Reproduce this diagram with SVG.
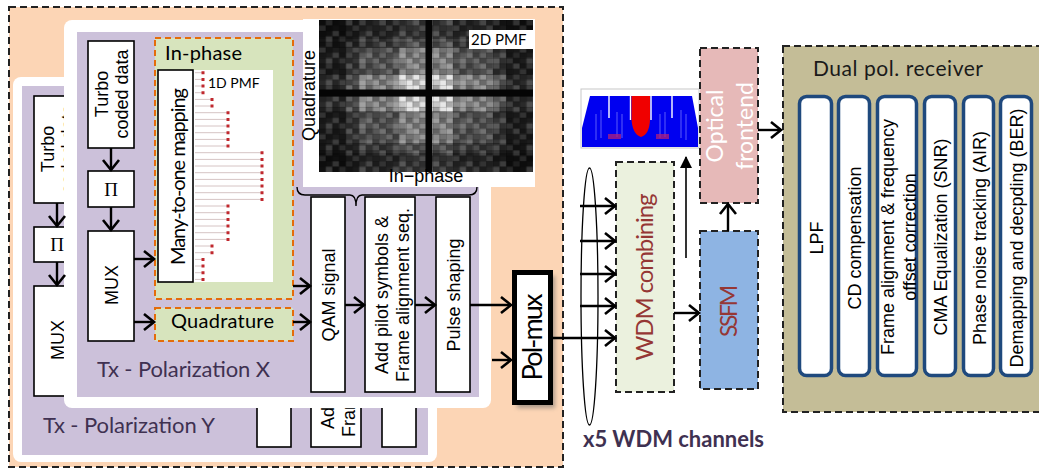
<svg xmlns="http://www.w3.org/2000/svg" width="1039" height="472" viewBox="0 0 1039 472">
<defs>
<style>
.box{fill:#fff;stroke:#000;stroke-width:1.6}
.ar{font-family:"Liberation Sans",Arial,sans-serif;font-size:18px;fill:#000}
.cal{font-family:Lato,"Open Sans",sans-serif}
.ln{fill:none;stroke:#000;stroke-width:2.4}
.dash{stroke:#222;stroke-width:2;stroke-dasharray:7 4}
.odash{fill:#D7E4BD;stroke:#E46C0A;stroke-width:2;stroke-dasharray:6 4}
.rx{fill:#fff;stroke:#1F497D;stroke-width:3.5}
.tx{font-size:22px;fill:#3F3151}
.pi{font-family:"Liberation Serif","DejaVu Serif",serif;font-size:19px}
</style>
<marker id="ah" markerUnits="userSpaceOnUse" markerWidth="16" markerHeight="20" viewBox="0 0 16 20" refX="12" refY="10" orient="auto">
<path d="M2,2 L12,10 L2,18" fill="none" stroke="#000" stroke-width="2.6"/>
</marker>
<marker id="tri" markerUnits="userSpaceOnUse" markerWidth="12" markerHeight="12" viewBox="0 0 12 12" refX="11" refY="6" orient="auto">
<path d="M0,0 L12,6 L0,12 Z" fill="#000"/>
</marker>
<linearGradient id="hg" x1="0" y1="0" x2="1" y2="0">
<stop offset="0" stop-color="#2a2a2a"/><stop offset=".125" stop-color="#2a2a2a"/>
<stop offset=".125" stop-color="#555"/><stop offset=".1875" stop-color="#555"/>
<stop offset=".1875" stop-color="#8c8c8c"/><stop offset=".375" stop-color="#8c8c8c"/>
<stop offset=".375" stop-color="#e4e4e4"/><stop offset=".625" stop-color="#e4e4e4"/>
<stop offset=".625" stop-color="#8c8c8c"/><stop offset=".8125" stop-color="#8c8c8c"/>
<stop offset=".8125" stop-color="#555"/><stop offset=".875" stop-color="#555"/>
<stop offset=".875" stop-color="#2a2a2a"/><stop offset="1" stop-color="#2a2a2a"/>
</linearGradient>
<linearGradient id="vg" x1="0" y1="0" x2="0" y2="1">
<stop offset="0" stop-color="#383838"/><stop offset=".125" stop-color="#383838"/>
<stop offset=".125" stop-color="#5a5a5a"/><stop offset=".1875" stop-color="#5a5a5a"/>
<stop offset=".1875" stop-color="#9a9a9a"/><stop offset=".36" stop-color="#9a9a9a"/>
<stop offset=".36" stop-color="#fff"/><stop offset=".6" stop-color="#fff"/>
<stop offset=".6" stop-color="#9a9a9a"/><stop offset=".8125" stop-color="#9a9a9a"/>
<stop offset=".8125" stop-color="#5a5a5a"/><stop offset=".875" stop-color="#5a5a5a"/>
<stop offset=".875" stop-color="#383838"/><stop offset="1" stop-color="#383838"/>
</linearGradient>
<mask id="vm" maskUnits="userSpaceOnUse" x="319" y="20" width="214" height="152">
<rect x="319" y="20" width="214" height="152" fill="url(#vg)"/>
</mask>
<pattern id="tex" patternUnits="userSpaceOnUse" x="319" y="20" width="33.4375" height="21.72">
<rect x="0" y="0" width="6.6875" height="5.43" fill="#000" opacity=".25"/>
<rect x="6.6875" y="0" width="6.6875" height="5.43" fill="#fff" opacity=".1"/>
<rect x="13.375" y="0" width="6.6875" height="5.43" fill="#000" opacity=".3"/>
<rect x="26.75" y="0" width="6.6875" height="5.43" fill="#fff" opacity=".15"/>
<rect x="0" y="5.43" width="6.6875" height="5.43" fill="#fff" opacity=".1"/>
<rect x="6.6875" y="5.43" width="6.6875" height="5.43" fill="#000" opacity=".3"/>
<rect x="20.0625" y="5.43" width="6.6875" height="5.43" fill="#000" opacity=".2"/>
<rect x="26.75" y="5.43" width="6.6875" height="5.43" fill="#000" opacity=".1"/>
<rect x="0" y="10.86" width="6.6875" height="5.43" fill="#000" opacity=".2"/>
<rect x="13.375" y="10.86" width="6.6875" height="5.43" fill="#fff" opacity=".15"/>
<rect x="20.0625" y="10.86" width="6.6875" height="5.43" fill="#000" opacity=".3"/>
<rect x="26.75" y="10.86" width="6.6875" height="5.43" fill="#fff" opacity=".06"/>
<rect x="6.6875" y="16.29" width="6.6875" height="5.43" fill="#fff" opacity=".18"/>
<rect x="13.375" y="16.29" width="6.6875" height="5.43" fill="#000" opacity=".12"/>
<rect x="20.0625" y="16.29" width="6.6875" height="5.43" fill="#fff" opacity=".1"/>
<rect x="26.75" y="16.29" width="6.6875" height="5.43" fill="#000" opacity=".25"/>
</pattern>
<pattern id="grid" patternUnits="userSpaceOnUse" x="319" y="20" width="6.6875" height="5.43">
<path d="M0,0 H6.6875 M0,0 V5.43" stroke="#000" stroke-opacity=".35" stroke-width=".8" fill="none"/>
</pattern>
<filter id="blur" x="-20%" y="-20%" width="140%" height="140%"><feGaussianBlur stdDeviation="2"/></filter>
</defs>

<!-- outer transmitter area -->
<rect id="tx-area" x="9" y="7" width="554" height="460" fill="#FCD5B5" class="dash"/>

<!-- Polarization Y card -->
<g id="tx-pol-y">
<rect x="13" y="77" width="424" height="385" rx="8" fill="#fff"/>
<rect x="22" y="86" width="406" height="369" fill="#CCC1DA"/>
<rect class="box" x="34" y="96" width="46" height="107"/>
<text class="ar" text-anchor="middle" transform="translate(57,149) rotate(-90)"><tspan x="0" y="-3">Turbo</tspan><tspan x="0" y="17">coded data</tspan></text>
<rect class="box" x="34" y="227" width="46" height="35"/>
<text class="pi" text-anchor="middle" x="57" y="251">Π</text>
<rect class="box" x="34" y="286" width="46" height="110"/>
<text class="ar" font-size="19" text-anchor="middle" transform="translate(57,340) rotate(-90)" y="7">MUX</text>
<rect class="box" x="257" y="252" width="34" height="195"/>
<text class="ar" text-anchor="middle" transform="translate(274,350) rotate(-90)" y="7">QAM signal</text>
<rect class="box" x="311" y="252" width="50" height="195"/>
<text class="ar" text-anchor="middle" transform="translate(336,350) rotate(-90)"><tspan x="0" y="-2">Add pilot symbols &amp;</tspan><tspan x="0" y="19">Frame alignment seq.</tspan></text>
<rect class="box" x="382" y="252" width="34" height="195"/>
<text class="ar" text-anchor="middle" transform="translate(399,350) rotate(-90)" y="7">Pulse shaping</text>
<text class="cal tx" x="43" y="433" textLength="172">Tx - Polarization Y</text>
</g>

<!-- Polarization X card -->
<g id="tx-pol-x">
<rect x="64" y="20" width="427" height="388" rx="8" fill="#fff"/>
<rect x="77" y="32" width="402" height="365" fill="#CCC1DA"/>
<text class="cal tx" x="97" y="377" textLength="173">Tx - Polarization X</text>
</g>

<g id="turbo-x">
<rect class="box" x="88" y="41" width="46" height="107"/>
<text class="ar" text-anchor="middle" transform="translate(111,94) rotate(-90)"><tspan x="0" y="-3">Turbo</tspan><tspan x="0" y="17">coded data</tspan></text>
</g>
<g id="interleaver-x">
<rect class="box" x="88" y="171" width="46" height="36"/>
<text class="pi" text-anchor="middle" x="111" y="196">Π</text>
</g>
<g id="mux-x">
<rect class="box" x="88" y="231" width="46" height="110"/>
<text class="ar" font-size="19" text-anchor="middle" transform="translate(111,285) rotate(-90)" y="7">MUX</text>
</g>

<g id="in-phase">
<rect class="odash" x="155" y="38" width="138" height="261"/>
<text class="cal" font-size="20" x="165" y="59.5" textLength="77">In-phase</text>
<rect x="193" y="70" width="80" height="212" fill="#fff"/>
<path d="M195,72.7H203M195,79.4H203M195,86H203M195,92.7H203M195,99.4H212M195,106H212M195,112.7H228M195,119.4H228M195,126H228M195,132.7H228M195,139.4H228M195,146H228M195,152.7H262M195,159.4H262M195,166H262M195,172.7H262M195,179.4H262M195,186H262M195,192.7H262M195,199.4H262M195,206H228M195,212.7H228M195,219.4H228M195,226H228M195,232.7H228M195,239.4H228M195,246H212M195,252.7H212M195,259.4H203M195,266H203M195,272.7H203M195,279.4H203" stroke="#D6C4C4" stroke-width="1" fill="none"/>
<path fill="#C0282E" d="M201.5,71.2h3v3h-3zM201.5,77.9h3v3h-3zM201.5,84.5h3v3h-3zM201.5,91.2h3v3h-3zM210.5,97.9h3v3h-3zM210.5,104.5h3v3h-3zM226.5,111.2h3v3h-3zM226.5,117.9h3v3h-3zM226.5,124.5h3v3h-3zM226.5,131.2h3v3h-3zM226.5,137.9h3v3h-3zM226.5,144.5h3v3h-3zM260.5,151.2h3v3h-3zM260.5,157.9h3v3h-3zM260.5,164.5h3v3h-3zM260.5,171.2h3v3h-3zM260.5,177.9h3v3h-3zM260.5,184.5h3v3h-3zM260.5,191.2h3v3h-3zM260.5,197.9h3v3h-3zM226.5,204.5h3v3h-3zM226.5,211.2h3v3h-3zM226.5,217.9h3v3h-3zM226.5,224.5h3v3h-3zM226.5,231.2h3v3h-3zM226.5,237.9h3v3h-3zM210.5,244.5h3v3h-3zM210.5,251.2h3v3h-3zM201.5,257.9h3v3h-3zM201.5,264.5h3v3h-3zM201.5,271.2h3v3h-3zM201.5,277.9h3v3h-3z"/>
<text class="cal" font-size="14" x="208" y="87.5">1D PMF</text>
<rect class="box" x="158" y="70" width="35" height="212"/>
<text class="cal" font-size="20" text-anchor="middle" transform="translate(175.5,176.5) rotate(-90)" y="9" textLength="177">Many-to-one mapping</text>
</g>

<g id="quadrature">
<rect class="odash" x="155" y="308" width="138" height="33"/>
<text class="cal" font-size="20" x="171" y="328" textLength="103">Quadrature</text>
</g>

<g id="qam">
<rect class="box" x="311" y="197" width="34" height="195"/>
<text class="ar" text-anchor="middle" transform="translate(328,295) rotate(-90)" y="7">QAM signal</text>
</g>
<g id="pilots">
<rect class="box" x="365" y="197" width="50" height="195"/>
<text class="ar" text-anchor="middle" transform="translate(390,295) rotate(-90)"><tspan x="0" y="-2">Add pilot symbols &amp;</tspan><tspan x="0" y="19">Frame alignment seq.</tspan></text>
</g>
<g id="pulse">
<rect class="box" x="436" y="197" width="34" height="195"/>
<text class="ar" text-anchor="middle" transform="translate(453,295) rotate(-90)" y="7">Pulse shaping</text>
</g>

<!-- 2D PMF picture -->
<g id="pmf-2d">
<rect x="303" y="19" width="232" height="168" fill="#fff"/>
<rect x="319" y="20" width="214" height="152" fill="#0a0a0a"/>
<rect x="319" y="20" width="214" height="152" fill="url(#hg)" mask="url(#vm)"/>
<rect x="319" y="20" width="214" height="152" fill="url(#tex)"/>
<rect x="319" y="20" width="214" height="152" fill="url(#grid)"/>
<rect x="425.5" y="20" width="6.5" height="152" fill="#050505"/>
<rect x="319" y="89.5" width="214" height="7" fill="#050505"/>
<rect x="469" y="30" width="65" height="19" fill="#fff"/>
<text class="cal" font-size="15" x="471" y="44.5">2D PMF</text>
<text class="ar" font-size="12.5" text-anchor="middle" transform="translate(311,95.5) rotate(-90)" y="3.5">Quadrature</text>
<text class="ar" font-size="12.5" text-anchor="middle" x="426" y="182">In−phase</text>
<path d="M297,187 Q297,195 305,195 L350,195 Q356,195 356,206 Q356,195 362,195 L469,195 Q477,195 477,187" fill="none" stroke="#000" stroke-width="1.4"/>
</g>

<g id="pol-mux">
<rect x="517" y="276" width="38" height="132" fill="#666" opacity=".55" filter="url(#blur)"/>
<rect x="514.5" y="272.5" width="36" height="130" fill="#fff" stroke="#000" stroke-width="5"/>
<text class="cal" font-size="27" text-anchor="middle" transform="translate(532,337) rotate(-90)" y="10" textLength="87">Pol-mux</text>
</g>

<g id="spectrum">
<rect x="581" y="89" width="118" height="59" fill="#fff" stroke="#c8c8c8" stroke-width="1"/>
<path d="M582,147 L582,128 L590,96 L692,96 L698,128 L698,147 Z" fill="#0000F0"/>
<path d="M609,96 V118 M630.5,96 V120 M651,96 V120 M672,96 V118" stroke="#fff" stroke-width="1.4"/>
<path d="M596,140 V114 M601,138 V110 M617,137 V112 M622,138 V114 M660,138 V114 M665,137 V112 M681,138 V110 M686,140 V114" stroke="#9C9CFF" stroke-width="1" opacity=".6"/>
<path d="M631.5,96 L650,96 L650,118 Q650,134 641,137 Q632,134 631.5,118 Z" fill="#F00000"/>
<rect x="608" y="134" width="13" height="5" fill="#B0207A" opacity=".75"/>
<rect x="656" y="134" width="13" height="5" fill="#B0207A" opacity=".75"/>
</g>

<g id="wdm-combining">
<rect x="616" y="162" width="58" height="230" fill="#EBF1DE" class="dash"/>
<text class="cal" font-size="24" fill="#953735" text-anchor="middle" transform="translate(645,277) rotate(-90)" y="8" textLength="167">WDM combining</text>
</g>
<g id="ssfm">
<rect x="700" y="231" width="58" height="158" fill="#8EB4E3" class="dash"/>
<text class="cal" font-size="23" fill="#953735" text-anchor="middle" transform="translate(729,311) rotate(-90)" y="8" textLength="52">SSFM</text>
</g>
<g id="optical-frontend">
<rect x="700" y="48" width="58" height="155" fill="#E6B9B8" class="dash"/>
<text class="cal" font-size="23" fill="#fff" text-anchor="middle" transform="translate(729,126) rotate(-90)"><tspan x="0" y="-6">Optical</tspan><tspan x="0" y="24">frontend</tspan></text>
</g>

<g id="receiver">
<rect x="783" y="46" width="270" height="366" fill="#C4BD97" class="dash"/>
<text class="cal" font-size="21" fill="#1a1a1a" x="813" y="76" textLength="170">Dual pol. receiver</text>
</g>
<g id="lpf"><rect class="rx" x="799.5" y="96.5" width="32" height="279" rx="7"/>
<text class="ar" text-anchor="middle" transform="translate(815.5,238) rotate(-90)" y="7">LPF</text></g>
<g id="cd"><rect class="rx" x="838.5" y="96.5" width="31" height="279" rx="7"/>
<text class="ar" text-anchor="middle" transform="translate(854,238) rotate(-90)" y="7">CD compensation</text></g>
<g id="frame"><rect class="rx" x="877.5" y="96.5" width="39" height="279" rx="7"/>
<text class="ar" text-anchor="middle" transform="translate(897,237) rotate(-90)"><tspan x="0" y="-3.5">Frame alignment &amp; frequency</tspan><tspan x="0" y="18.5">offset correction</tspan></text></g>
<g id="cma"><rect class="rx" x="924.5" y="96.5" width="31" height="279" rx="7"/>
<text class="ar" text-anchor="middle" transform="translate(940,237) rotate(-90)" y="7">CMA Equalization (SNR)</text></g>
<g id="phase"><rect class="rx" x="963.5" y="96.5" width="30" height="279" rx="7"/>
<text class="ar" text-anchor="middle" transform="translate(978.5,238) rotate(-90)" y="7">Phase noise tracking (AIR)</text></g>
<g id="demap"><rect class="rx" x="1000.5" y="96.5" width="31" height="279" rx="7"/>
<text class="ar" text-anchor="middle" transform="translate(1016,238) rotate(-90)" y="7">Demapping and decpding (BER)</text></g>

<text id="wdm-note" class="cal" font-size="22" font-weight="bold" fill="#3F3151" x="583" y="447" textLength="181">x5 WDM channels</text>

<g id="connectors">
<g class="ln" marker-end="url(#ah)">
<path d="M57,203 V226"/>
<path d="M57,262 V285"/>
<path d="M111,148 V170"/>
<path d="M111,207 V230"/>
<path d="M134,259 H154"/>
<path d="M134,322 H154"/>
<path d="M293,286 H310"/>
<path d="M293,322 H310"/>
<path d="M345,305 H364"/>
<path d="M415,305 H435"/>
<path d="M470,305 H511"/>
<path d="M492,360 H511"/>
<path d="M553,338 H615"/>
<path d="M580,206 H615"/>
<path d="M580,241 H615"/>
<path d="M580,274 H615"/>
<path d="M580,306 H615"/>
<path d="M674,313 H699"/>
<path d="M728,231 V204"/>
<path d="M758,130 H781"/>
</g>
<ellipse cx="589.5" cy="296.5" rx="8.5" ry="128.5" fill="none" stroke="#000" stroke-width="1.3"/>
<path d="M686,258 V157" stroke="#000" stroke-width="1.6" marker-end="url(#tri)"/>
</g>
</svg>
